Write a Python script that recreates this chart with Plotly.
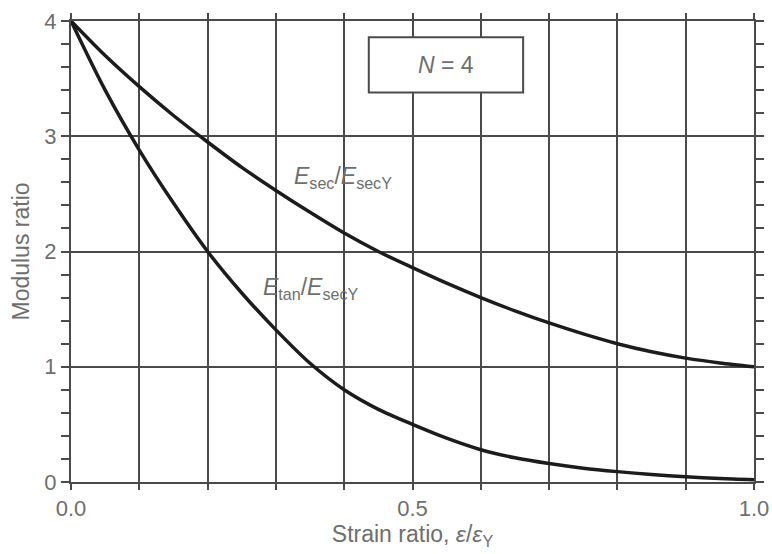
import plotly.graph_objects as go

# Strain ratio ε/εY sample points
strain = [0.0, 0.05, 0.1, 0.15, 0.2, 0.25, 0.3, 0.35, 0.4, 0.45, 0.5, 0.55, 0.6,
          0.65, 0.7, 0.75, 0.8, 0.85, 0.9, 0.95, 1.0]

# Secant modulus ratio Esec/EsecY
esec = [4.0, 3.70, 3.43, 3.18, 2.95, 2.73, 2.53, 2.34, 2.16, 2.00, 1.86, 1.725, 1.60,
        1.485, 1.38, 1.285, 1.20, 1.13, 1.075, 1.033, 1.00]

# Tangent modulus ratio Etan/EsecY
etan = [4.0, 3.40, 2.88, 2.42, 2.00, 1.64, 1.32, 1.03, 0.80, 0.63, 0.50, 0.38, 0.28,
        0.21, 0.16, 0.12, 0.09, 0.065, 0.045, 0.03, 0.02]

x_ticks = [round(0.1 * i, 1) for i in range(11)]
x_labels = ["0.0", "", "", "", "", "0.5", "", "", "", "", "1.0"]
y_ticks = [0, 1, 2, 3, 4]

grid_col = "#4a4a4a"
text_col = "#6e6e6e"
curve_col = "#1c1c1c"
fam = "Liberation Sans"

fig = go.Figure()
for series in (esec, etan):
    fig.add_trace(go.Scatter(x=strain, y=series, mode="lines",
                             line=dict(color=curve_col, width=3.5, shape="spline", smoothing=0.8),
                             showlegend=False, hoverinfo="skip"))

# Parameter box
fig.add_shape(type="rect", x0=0.436, x1=0.662, y0=3.38, y1=3.86, xref="x", yref="y",
              fillcolor="white", line=dict(color=grid_col, width=2), layer="above")
fig.add_annotation(x=0.549, y=3.62, text="<i>N</i> = 4", showarrow=False,
                   font=dict(size=23, color=text_col, family=fam))

# Curve labels
fig.add_annotation(x=0.398, y=2.64, text="<i>E</i><sub>sec</sub>/<i>E</i><sub>secY</sub>", showarrow=False,
                   font=dict(size=23, color=text_col, family=fam))
fig.add_annotation(x=0.350, y=1.68, text="<i>E</i><sub>tan</sub>/<i>E</i><sub>secY</sub>", showarrow=False,
                   font=dict(size=23, color=text_col, family=fam))

fig.update_layout(
    width=772, height=554,
    margin=dict(l=71, r=18, t=21, b=72),
    plot_bgcolor="white", paper_bgcolor="white",
    font=dict(family=fam, size=22, color=text_col),
    xaxis=dict(
        range=[0, 1], tickvals=x_ticks, ticktext=x_labels, automargin=False,
        showgrid=True, gridcolor=grid_col, gridwidth=2,
        showline=True, linecolor=grid_col, linewidth=2, mirror="ticks",
        ticks="outside", ticklen=6, tickwidth=2, tickcolor=grid_col,
        zeroline=False, fixedrange=True,
        title=dict(text="Strain ratio, <i>ε</i>/<i>ε</i><sub>Y</sub>", standoff=2,
                   font=dict(size=23, color=text_col)),
        tickfont=dict(size=22, color=text_col),
    ),
    yaxis=dict(
        range=[0, 4], tickvals=y_ticks, automargin=False,
        showgrid=True, gridcolor=grid_col, gridwidth=2,
        showline=True, linecolor=grid_col, linewidth=2, mirror="ticks",
        ticks="outside", ticklen=8, tickwidth=2, tickcolor=grid_col,
        minor=dict(dtick=0.2, ticks="outside", ticklen=8, tickwidth=2, tickcolor=grid_col, showgrid=False),
        zeroline=False, fixedrange=True,
        title=dict(text="Modulus ratio", standoff=8, font=dict(size=23, color=text_col)),
        tickfont=dict(size=22, color=text_col),
    ),
)

fig.write_html("out.html")
